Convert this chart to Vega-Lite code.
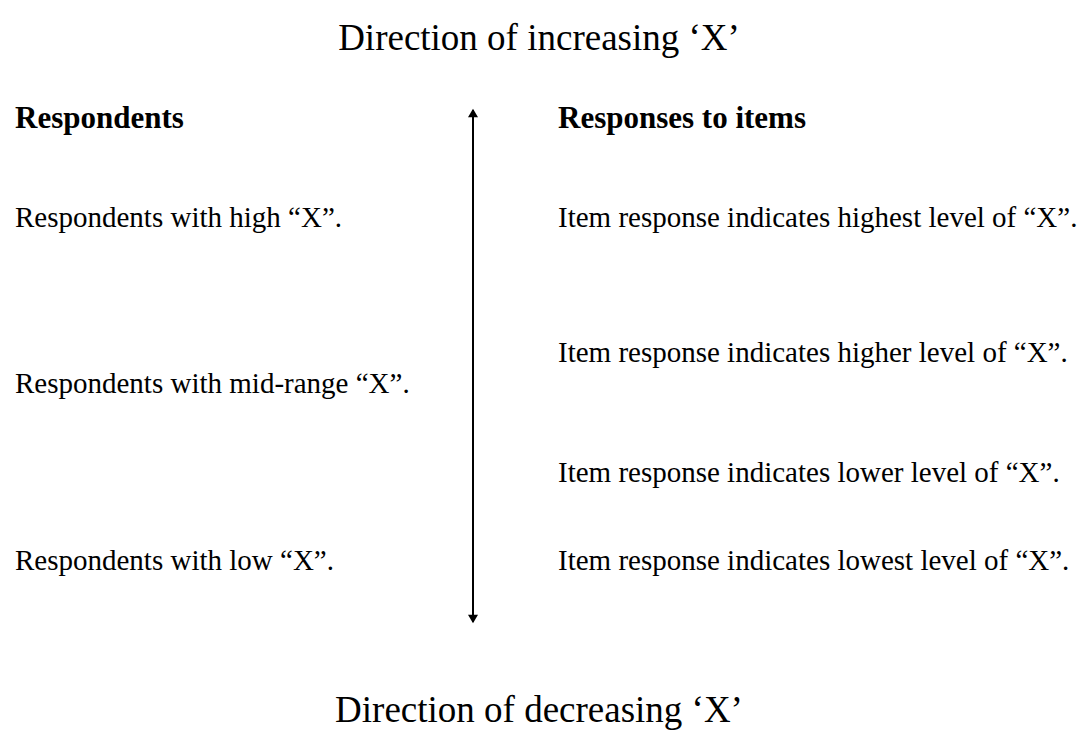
{
  "$schema": "https://vega.github.io/schema/vega-lite/v6.json",
  "width": 1078,
  "height": 744,
  "padding": 0,
  "autosize": {"type": "fit", "contains": "padding"},
  "background": "white",
  "config": {"view": {"stroke": null}},
  "datasets": {
    "texts": [
      {"label": "Direction of increasing ‘X’", "px": 539, "py": 50, "role": "title"},
      {"label": "Direction of decreasing ‘X’", "px": 539, "py": 722, "role": "title"},
      {"label": "Respondents", "px": 15, "py": 128, "role": "heading"},
      {"label": "Responses to items", "px": 558, "py": 128, "role": "heading"},
      {"label": "Respondents with high “X”.", "px": 15, "py": 227, "role": "body"},
      {"label": "Respondents with mid-range “X”.", "px": 15, "py": 393, "role": "body"},
      {"label": "Respondents with low “X”.", "px": 15, "py": 570, "role": "body"},
      {"label": "Item response indicates highest level of “X”.", "px": 558, "py": 227, "role": "body"},
      {"label": "Item response indicates higher level of “X”.", "px": 558, "py": 362, "role": "body"},
      {"label": "Item response indicates lower level of “X”.", "px": 558, "py": 482, "role": "body"},
      {"label": "Item response indicates lowest level of “X”.", "px": 558, "py": 570, "role": "body"}
    ],
    "axisline": [{"px": 473, "top": 110, "bottom": 622}],
    "heads": [
      {"px": 473, "py": 113, "shape": "triangle-up"},
      {"px": 473, "py": 619, "shape": "triangle-down"}
    ]
  },
  "layer": [
    {
      "data": {"name": "axisline"},
      "mark": {"type": "rule", "color": "black", "strokeWidth": 2},
      "encoding": {
        "x": {"field": "px", "type": "quantitative", "scale": {"domain": [0, 1078]}, "axis": null},
        "y": {"field": "top", "type": "quantitative", "scale": {"domain": [0, 744], "reverse": true}, "axis": null},
        "y2": {"field": "bottom"}
      }
    },
    {
      "data": {"name": "heads"},
      "mark": {"type": "point", "filled": true, "color": "black", "size": 100, "opacity": 1},
      "encoding": {
        "x": {"field": "px", "type": "quantitative", "scale": {"domain": [0, 1078]}, "axis": null},
        "y": {"field": "py", "type": "quantitative", "scale": {"domain": [0, 744], "reverse": true}, "axis": null},
        "shape": {"field": "shape", "type": "nominal", "scale": {"domain": ["triangle-up", "triangle-down"], "range": ["triangle-up", "triangle-down"]}, "legend": null}
      }
    },
    {
      "data": {"name": "texts"},
      "transform": [{"filter": "datum.role === 'title'"}],
      "mark": {"type": "text", "font": "Liberation Serif", "fontSize": 37, "align": "center", "baseline": "alphabetic", "color": "black"},
      "encoding": {
        "x": {"field": "px", "type": "quantitative", "scale": {"domain": [0, 1078]}, "axis": null},
        "y": {"field": "py", "type": "quantitative", "scale": {"domain": [0, 744], "reverse": true}, "axis": null},
        "text": {"field": "label"}
      }
    },
    {
      "data": {"name": "texts"},
      "transform": [{"filter": "datum.role === 'heading'"}],
      "mark": {"type": "text", "font": "Liberation Serif", "fontSize": 31, "fontWeight": "bold", "align": "left", "baseline": "alphabetic", "color": "black"},
      "encoding": {
        "x": {"field": "px", "type": "quantitative", "scale": {"domain": [0, 1078]}, "axis": null},
        "y": {"field": "py", "type": "quantitative", "scale": {"domain": [0, 744], "reverse": true}, "axis": null},
        "text": {"field": "label"}
      }
    },
    {
      "data": {"name": "texts"},
      "transform": [{"filter": "datum.role === 'body'"}],
      "mark": {"type": "text", "font": "Liberation Serif", "fontSize": 29, "align": "left", "baseline": "alphabetic", "color": "black"},
      "encoding": {
        "x": {"field": "px", "type": "quantitative", "scale": {"domain": [0, 1078]}, "axis": null},
        "y": {"field": "py", "type": "quantitative", "scale": {"domain": [0, 744], "reverse": true}, "axis": null},
        "text": {"field": "label"}
      }
    }
  ]
}
